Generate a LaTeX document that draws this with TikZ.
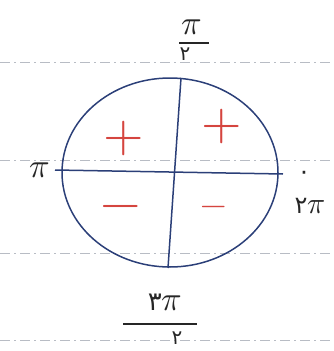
\documentclass[tikz,border=0pt]{standalone}
\usepackage{unicode-math}
\setmathfont{Latin Modern Math}
\usetikzlibrary{shapes.geometric}
\newfontfamily\pfont[Script=Arabic]{DejaVu Sans}
\definecolor{ink}{HTML}{2B3F78}
\definecolor{redink}{HTML}{D5453F}
\definecolor{rule}{HTML}{B8BCC4}
\tikzset{
  ruled/.style={draw=rule, line width=0.8pt, dash pattern=on 10pt off 4pt on 2pt off 4pt},
  axis/.style={draw=ink, line width=1.5pt},
  bar/.style={draw=black!85, line width=1.8pt},
  sign/.style={text=redink, inner sep=0pt, font=\fontsize{52}{52}\selectfont},
  lab/.style={text=black!85, inner sep=0pt, font=\fontsize{34}{34}\selectfont},
  digit/.style={text=black!85, inner sep=0pt, font=\pfont\fontsize{20}{20}\selectfont},
}
\begin{document}
\begin{tikzpicture}[x=1pt,y=-1pt]
\useasboundingbox (0,0) rectangle (333,351);
% notebook rules
\foreach \yy in {62,160,253,340} \draw[ruled] (0,\yy) -- (333,\yy);
% circle
\node[draw=ink, line width=1.5pt, ellipse, minimum width=216pt, minimum height=189pt, inner sep=0pt] (c) at (170,172.5) {};
% axes
\coordinate (L) at (55,170);
\coordinate (R) at (283,174);
\coordinate (T) at (181,78);
\coordinate (B) at (168,268);
\draw[axis] (L) -- (R);
\draw[axis] (T) -- (B);
% signs
\node[sign] (p1) at (124,138) {$\symbf{+}$};
\node[sign] (p2) at (222,126) {$\symbf{+}$};
\node[sign] (m1) at (121,212) {$\symbf{-}$};
\node[sign, font=\fontsize{34}{34}\selectfont] (m2) at (214,211) {$\symbf{-}$};
% top label pi/2
\node[lab] (topnum) at (192,27) {$\pi$};
\coordinate (tb1) at (179,43);
\coordinate (tb2) at (209,43);
\draw[bar] (tb1) -- (tb2);
\node[digit] (topden) at (185,54) {۲};
% left / right labels
\node[lab] (left) at (40,170) {$\pi$};
\node[lab, font=\pfont\fontsize{24}{24}\selectfont] (zero) at (304,175) {۰};
\node[lab, font=\fontsize{30}{30}\selectfont] (right) at (310,206) {{\pfont\fontsize{24}{24}\selectfont ۲}$\pi$};
% bottom label 3pi/2
\node[lab] (botnum) at (165,302) {{\pfont\fontsize{26}{26}\selectfont ۳}$\pi$};
\coordinate (bb1) at (123,324);
\coordinate (bb2) at (197,324);
\draw[bar] (bb1) -- (bb2);
\node[digit] (botden) at (177,338) {۲};
\end{tikzpicture}
\end{document}
